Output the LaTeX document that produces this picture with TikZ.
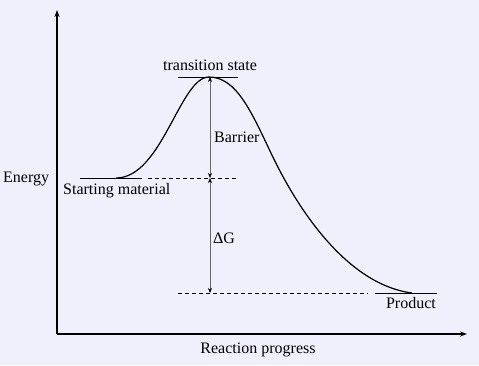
\documentclass[tikz,border=0pt]{standalone}
\usepackage{fontspec}
\setmainfont{Liberation Serif}
\usetikzlibrary{arrows.meta}
\definecolor{bgcol}{RGB}{240,240,252}

\begin{document}
\begin{tikzpicture}[x=1pt,y=-1pt,
    lbl/.style={font=\fontsize{16}{19}\selectfont, inner sep=0pt},
    axis/.style={line width=1.1pt,-{Stealth[length=7pt,width=5pt]}},
    level/.style={line width=1pt},
    guide/.style={line width=0.8pt,dash pattern=on 4pt off 3pt},
    gap/.style={line width=0.7pt,draw=black!60,{Stealth[length=5pt,width=4pt,black]}-{Stealth[length=5pt,width=4pt,black]}},
    path/.style={line width=1.2pt}]
        \fill[bgcol] (0,0) rectangle (479,365);
        \useasboundingbox (0,0) rectangle (479,365);
        % axes
        \coordinate (origin) at (57,334);
        \coordinate (ytop) at (57,10);
        \coordinate (xend) at (467,334);
        \draw[axis](origin)--(ytop);
        \draw[axis](origin)--(xend);
        \node[lbl,anchor=base west] (energy) at (3,182){Energy};
        \node[lbl,anchor=base] (progress) at (258,353){Reaction progress};
        % levels
        \coordinate (smleft) at (80,178);
        \coordinate (smright) at (142,178);
        \coordinate (smdash) at (148,178);
        \coordinate (smend) at (238,178);
        \coordinate (tsleft) at (178,77);
        \coordinate (tsright) at (238,77);
        \coordinate (pdash) at (178,293);
        \coordinate (pdashend) at (368,293);
        \coordinate (pleft) at (375,293);
        \coordinate (pright) at (437,293);
        \draw[level](smleft)--(smright);
        \draw[guide](smdash)--(smend);
        \draw[level](tsleft)--(tsright);
        \draw[guide](pdash)--(pdashend);
        \draw[level](pleft)--(pright);
        \node[lbl,anchor=base west] (start) at (63,194){Starting material};
        \node[lbl,anchor=base] (ts) at (210,70){transition state};
        \node[lbl,anchor=base east] (product) at (436,308){Product};
        % reaction path
        \coordinate (foot) at (116,178);
        \coordinate (peak) at (209,77);
        \coordinate (bend) at (270,151);
        \coordinate (land) at (412,293);
        \draw[path](foot) .. controls (162,178) and (180,77) .. (peak)
            .. controls (236,77) and (251,111) .. (bend)
            .. controls (300,215) and (350,285) .. (land);
        % energy differences
        \coordinate (bartop) at (210,77);
        \coordinate (barbot) at (210,178);
        \coordinate (dgbot) at (210,293);
        \draw[gap](bartop)--(barbot);
        \draw[gap](barbot)--(dgbot);
        \node[lbl,anchor=base west] (barrier) at (214,142){Barrier};
        \node[lbl,anchor=base west] (dg) at (213,243){ΔG};
    \end{tikzpicture}
\end{document}
